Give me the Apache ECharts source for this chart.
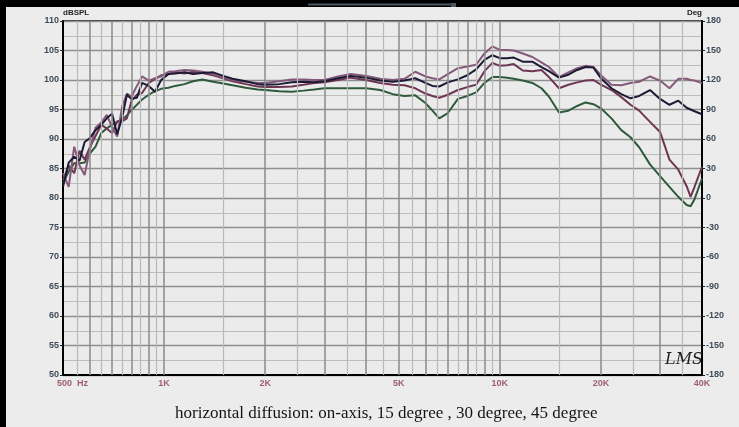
<!DOCTYPE html>
<html>
<head>
<meta charset="utf-8">
<title>Horizontal diffusion</title>
<script src="https://cdn.jsdelivr.net/npm/echarts@6/dist/echarts.min.js"></script>
<style>
  html, body { margin: 0; padding: 0; background: #ececec; }
  #chart { width: 739px; height: 427px; }
</style>
</head>
<body>
<div id="chart"></div>
<script>
// Measurement frequencies (Hz)
const freqs = [500, 520, 540, 560, 580, 600, 625, 650, 675, 700, 725, 750, 775, 800, 830, 860, 900, 940, 980,
  1030, 1080, 1150, 1220, 1300, 1400, 1500, 1600, 1750, 1900, 2000, 2200, 2400, 2600, 2800, 3000, 3300, 3600,
  4000, 4400, 4800, 5200, 5600, 6000, 6300, 6600, 7000, 7500, 8000, 8500, 9000, 9500, 10000, 10500, 11000,
  11700, 12500, 13300, 14000, 15000, 16000, 17000, 18000, 19000, 20000, 21500, 23000, 24500, 26000, 28000,
  30000, 32000, 34000, 36000, 37000, 38000, 40000];

// SPL (dB) for each angle
const onAxis = [81.9, 86.0, 87.0, 86.3, 89.5, 90.1, 91.5, 92.4, 93.5, 94.3, 90.8, 93.6, 97.5, 96.8, 97.0, 99.5, 99.0, 98.0, 100.0,
  101.0, 101.1, 101.3, 101.0, 101.2, 101.3, 100.7, 100.2, 99.8, 99.3, 99.2, 99.3, 99.6, 99.7, 99.6, 99.8, 100.3, 100.7,
  100.4, 99.9, 99.7, 99.9, 100.3, 99.5, 99.0, 98.9, 99.6, 100.1, 100.8, 101.8, 103.4, 104.2, 103.7, 103.7, 103.8,
  103.1, 103.1, 102.2, 101.5, 100.4, 100.9, 101.7, 102.2, 102.1, 100.3, 98.6, 97.6, 96.9, 97.3, 98.3,
  96.8, 95.8, 96.5, 95.3, 95.0, 94.7, 94.2];

const deg15 = [84.2, 81.9, 88.7, 85.5, 83.9, 88.0, 91.9, 92.8, 94.1, 92.0, 90.4, 95.5, 97.7, 97.2, 99.0, 100.6, 99.9, 100.3, 100.6,
  101.4, 101.5, 101.7, 101.6, 101.4, 101.0, 100.4, 100.0, 99.7, 99.5, 99.5, 99.8, 100.1, 100.1, 100.0, 100.0, 100.6, 101.0,
  100.7, 100.2, 100.0, 100.2, 101.4, 100.6, 100.3, 100.1, 101.0, 102.0, 102.3, 102.6, 104.5, 105.7, 105.1, 105.1, 105.0,
  104.5, 103.9, 103.0, 102.2, 100.5, 101.3, 102.0, 102.4, 102.2, 100.8, 99.2, 99.1, 99.5, 99.7, 100.6,
  99.9, 98.6, 100.2, 100.2, 100.0, 99.9, 99.5];

const deg30 = [83.0, 85.5, 84.2, 88.0, 86.5, 88.5, 90.5, 92.4, 91.8, 91.0, 93.0, 93.0, 93.5, 96.5, 97.5, 97.8, 99.5, 100.2, 100.8,
  101.0, 101.3, 101.1, 101.4, 101.2, 100.8, 100.3, 99.8, 99.3, 98.9, 98.8, 98.8, 98.9, 99.2, 99.5, 99.6, 100.0, 100.4,
  100.0, 99.5, 99.2, 99.1, 98.6, 97.7, 97.3, 97.0, 97.5, 98.3, 98.8, 99.2, 101.5, 102.9, 102.4, 102.5, 102.7,
  101.6, 101.5, 101.7, 100.5, 98.6, 99.2, 99.6, 99.9, 100.0, 99.2, 98.3, 97.1, 95.8, 94.8, 92.9,
  91.2, 86.5, 84.8, 82.0, 80.2, 81.9, 85.3];

const deg45 = [82.5, 84.5, 85.9, 85.9, 86.0, 87.5, 88.7, 91.0, 91.8, 92.4, 92.9, 93.3, 94.0, 94.9, 95.8, 96.7, 97.5, 98.1, 98.5,
  98.7, 99.0, 99.3, 99.8, 100.1, 99.7, 99.4, 99.1, 98.7, 98.4, 98.3, 98.1, 98.0, 98.2, 98.4, 98.6, 98.6, 98.6,
  98.6, 98.3, 97.6, 97.3, 97.4, 96.1, 94.8, 93.5, 94.4, 96.8, 97.3, 97.9, 99.5, 100.5, 100.5, 100.4, 100.2,
  99.9, 99.5, 98.6, 97.2, 94.5, 94.8, 95.6, 96.2, 95.9, 95.2, 93.5, 91.5, 90.3, 88.6, 85.7,
  83.7, 81.9, 80.2, 78.8, 78.6, 79.8, 83.3];

// Frequency grid lines and tick labels
const gridMajorHz = [600, 700, 800, 900, 1000, 2000, 3000, 4000, 5000, 6000, 7000, 8000, 9000, 10000, 20000, 30000];
const gridMinorHz = [550, 650, 750, 850, 950, 1500, 2500, 3500, 4500, 5500, 6500, 7500, 8500, 9500, 15000, 25000, 35000];
const freqTicks = [500, 1000, 2000, 5000, 10000, 20000, 40000];
const freqTickLabels = ['500  Hz', '1K', '2K', '5K', '10K', '20K', '40K'];

const pairs = vals => freqs.map((f, i) => [f, vals[i]]);

const curve = (name, vals, color) => ({
  type: 'line', name, data: pairs(vals), showSymbol: false, symbol: 'none',
  lineStyle: { color, width: 2 }, z: 4, silent: true
});

const axisLabelStyle = { color: '#3f4c5a', fontWeight: 'bold', fontSize: 9, fontFamily: 'Arial' };

const chart = echarts.init(document.getElementById('chart'), null, { renderer: 'canvas' });
chart.setOption({
  animation: false,
  backgroundColor: '#ececec',
  title: {
    text: 'horizontal diffusion: on-axis, 15 degree , 30 degree, 45 degree',
    left: 170, top: 400,
    textStyle: { fontFamily: 'Liberation Serif', fontSize: 17, fontWeight: 'normal', color: '#151515' }
  },
  grid: {
    left: 63, right: 37, top: 21, bottom: 52,
    show: true, backgroundColor: '#ebebeb', borderColor: '#000', borderWidth: 1.5
  },
  xAxis: {
    type: 'log', logBase: 10, min: 500, max: 40000,
    axisLine: { show: true, onZero: false, lineStyle: { color: '#000', width: 2 } },
    axisTick: { show: false }, axisLabel: { show: false },
    splitLine: { show: false }, minorSplitLine: { show: false }
  },
  yAxis: [
    {
      type: 'value', min: 50, max: 110, interval: 5, position: 'left',
      name: 'dBSPL', nameLocation: 'end', nameGap: 3,
      nameTextStyle: { color: '#222', fontWeight: 'bold', fontSize: 8, fontFamily: 'Arial', align: 'left', verticalAlign: 'bottom' },
      axisLine: { show: true, onZero: false, lineStyle: { color: '#000', width: 2 } },
      axisTick: { show: true, length: 3, lineStyle: { color: '#222', width: 1 } },
      axisLabel: Object.assign({ margin: 4 }, axisLabelStyle),
      splitLine: { show: true, lineStyle: { color: '#8e8e8e', width: 1.3 } },
      minorTick: { show: false, splitNumber: 2 },
      minorSplitLine: { show: true, lineStyle: { color: '#bdbdbd', width: 1 } }
    },
    {
      type: 'value', min: -180, max: 180, interval: 30, position: 'right',
      name: 'Deg', nameLocation: 'end', nameGap: 3,
      nameTextStyle: { color: '#222', fontWeight: 'bold', fontSize: 8, fontFamily: 'Arial', align: 'right', verticalAlign: 'bottom' },
      axisLine: { show: true, onZero: false, lineStyle: { color: '#000', width: 2 } },
      axisTick: { show: true, length: 3, lineStyle: { color: '#222', width: 1 } },
      axisLabel: Object.assign({ margin: 4 }, axisLabelStyle),
      splitLine: { show: false }
    }
  ],
  series: [
    {
      // vertical log-frequency grid
      type: 'line', data: [], z: 1, silent: true,
      markLine: {
        silent: true, symbol: 'none', label: { show: false }, animation: false,
        data: gridMinorHz.map(f => ({ xAxis: f, lineStyle: { color: '#b9b9b9', width: 1.2, type: 'solid' } }))
          .concat(gridMajorHz.map(f => ({ xAxis: f, lineStyle: { color: '#8b8b8b', width: 1.5, type: 'solid' } })))
      }
    },
    curve('45 degree', deg45, '#2e5a3b'),
    curve('30 degree', deg30, '#6e3652'),
    curve('15 degree', deg15, '#84597b'),
    curve('on-axis', onAxis, '#1c1a35'),
    {
      // frequency tick labels under the axis
      type: 'scatter', symbolSize: 0, z: 5, silent: true, clip: false,
      data: freqTicks.map((f, i) => i === 0
        ? { value: [f, 50], label: { align: 'left', offset: [-6, 0] } }
        : { value: [f, 50] }),
      label: {
        show: true, position: 'bottom', distance: 4,
        formatter: p => freqTickLabels[p.dataIndex],
        color: '#8a3a4c', fontWeight: 'bold', fontSize: 9, fontFamily: 'Arial'
      }
    }
  ],
  graphic: [
    { type: 'rect', shape: { x: 0, y: 0, width: 739, height: 7 }, style: { fill: '#000' }, z: 100 },
    { type: 'rect', shape: { x: 0, y: 0, width: 6, height: 427 }, style: { fill: '#000' }, z: 100 },
    { type: 'line', shape: { x1: 308, y1: 4.5, x2: 455, y2: 4.5 }, style: { stroke: '#4a5560', lineWidth: 2 }, z: 101 },
    { type: 'rect', shape: { x: 451, y: 3, width: 5, height: 4 }, style: { fill: '#4a5560' }, z: 101 },
    {
      type: 'text', left: 665, top: 352, z: 50,
      style: { text: 'LMS', font: 'italic 16px "DejaVu Serif"', fill: '#1e1e1e' }
    }
  ]
});
</script>
</body>
</html>
